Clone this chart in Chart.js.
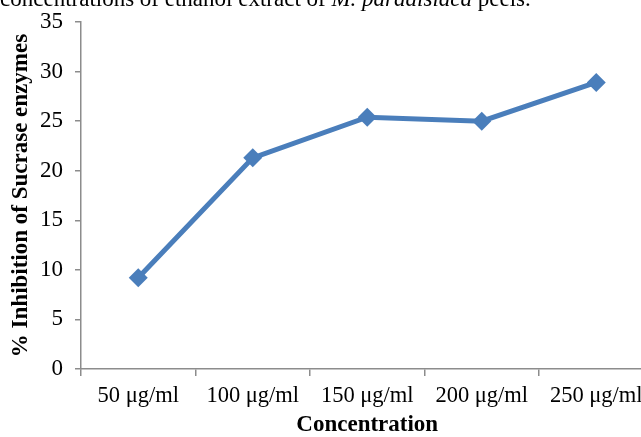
<!DOCTYPE html>
<html>
<head>
<meta charset="utf-8">
<script src="https://cdn.jsdelivr.net/npm/chart.js@4/dist/chart.umd.min.js"></script>
<style>
  html, body { margin: 0; padding: 0; background: #fff; overflow: hidden; }
  #wrap { width: 641px; height: 437px; position: relative; overflow: hidden; }
  canvas { display: block; }
</style>
</head>
<body>
<div id="wrap"><canvas id="c" width="663" height="437"></canvas></div>
<script>
// Sucrase inhibition by concentration of peel extract
const categories = ['50 μg/ml', '100 μg/ml', '150 μg/ml', '200 μg/ml', '250 μg/ml'];
const inhibition = [9.2, 21.3, 25.4, 25.0, 28.9];
const yTicks = [0, 5, 10, 15, 20, 25, 30, 35];
const captionParts = [
  { text: 'concentrations of ethanol extract of ', italic: false },
  { text: 'M. paradisiaca', italic: true },
  { text: ' peels.', italic: false }
];

const SERIF = '"Liberation Serif", "Times New Roman", serif';
const AXIS_GREY = '#8c8c8c';
const FONT_SIZE = 23;

// Caption line running off the top edge of the figure
const captionPlugin = {
  id: 'caption',
  afterDraw(chart) {
    const ctx = chart.ctx;
    ctx.save();
    ctx.fillStyle = '#000';
    ctx.textBaseline = 'alphabetic';
    let x = 0;
    captionParts.forEach(p => {
      ctx.font = (p.italic ? 'italic ' : '') + '23px ' + SERIF;
      ctx.fillText(p.text, x, 6);
      x += ctx.measureText(p.text).width;
    });
    ctx.restore();
  }
};

new Chart(document.getElementById('c'), {
  type: 'line',
  data: {
    labels: categories,
    datasets: [{
      data: inhibition,
      borderColor: '#4a7ebb',
      backgroundColor: '#4a7ebb',
      borderWidth: 5,
      pointStyle: 'rectRot',
      pointRadius: 9.5,
      pointHoverRadius: 9.5,
      pointBorderWidth: 0,
      tension: 0,
      fill: false
    }]
  },
  options: {
    responsive: false,
    animation: false,
    devicePixelRatio: 1,
    layout: { padding: { top: 22, right: 0, left: 0, bottom: 0 } },
    plugins: { legend: { display: false }, tooltip: { enabled: false } },
    scales: {
      x: {
        offset: true,
        grid: {
          offset: true,
          drawOnChartArea: false,
          drawTicks: true,
          tickLength: 7,
          color: AXIS_GREY,
          lineWidth: 1.5
        },
        border: { color: AXIS_GREY, width: 1.5 },
        ticks: {
          color: '#000',
          font: { family: SERIF, size: 22.5 },
          padding: 7,
          maxRotation: 0,
          autoSkip: false
        },
        title: {
          display: true,
          text: 'Concentration',
          color: '#000',
          font: { family: SERIF, size: FONT_SIZE, weight: 'bold' },
          padding: { top: 0, bottom: -2 }
        },
        afterFit(scale) {
          scale.height = 68;
          scale.paddingLeft = 0;
          scale.paddingRight = 0;
        }
      },
      y: {
        min: 0,
        max: 35,
        afterBuildTicks(scale) { scale.ticks = yTicks.map(v => ({ value: v })); },
        grid: {
          drawOnChartArea: false,
          drawTicks: true,
          tickLength: 6,
          color: AXIS_GREY,
          lineWidth: 1.5
        },
        border: { color: AXIS_GREY, width: 1.5 },
        ticks: {
          color: '#000',
          font: { family: SERIF, size: FONT_SIZE },
          padding: 12
        },
        title: {
          display: true,
          text: '% Inhibition of Sucrase enzymes',
          color: '#000',
          font: { family: SERIF, size: FONT_SIZE, weight: 'bold' },
          padding: { top: 7, bottom: 0 }
        },
        afterFit(scale) {
          scale.width = 81;
          scale.paddingTop = 0;
          scale.paddingBottom = 0;
        }
      }
    }
  },
  plugins: [captionPlugin]
});
</script>
</body>
</html>
